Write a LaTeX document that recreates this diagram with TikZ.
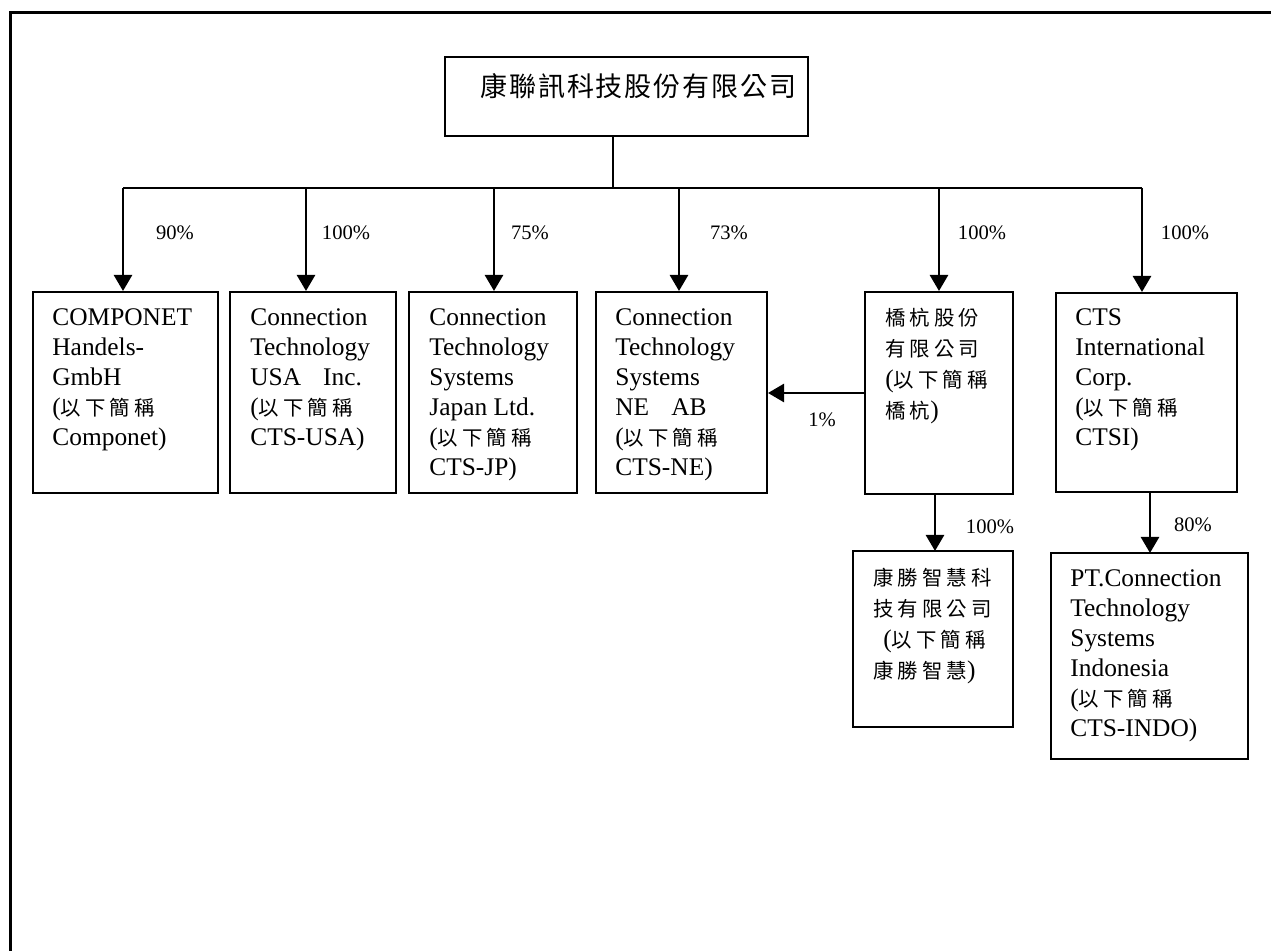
\documentclass[tikz,border=0pt]{standalone}
\usepackage{fontspec}
\setmainfont{Liberation Serif}
\newfontfamily\cjkfont{Noto Sans CJK TC}
\usetikzlibrary{arrows.meta}
\newcommand\cj[1]{{\cjkfont\fontsize{10.2pt}{15pt}\selectfont\addfontfeature{LetterSpace=20}#1}}
\tikzset{
  box/.style={draw, line width=1pt, inner sep=0pt},
  txt/.style={anchor=base west, inner sep=0pt, font=\fontsize{12.7pt}{15pt}\selectfont},
  pct/.style={anchor=base, inner sep=0pt, font=\fontsize{10.3pt}{12pt}\selectfont},
  arr/.style={line width=1.3pt, -{Triangle[width=9pt,length=8pt]}},
  link/.style={line width=1pt},
  frameline/.style={line width=1.5pt}
}
\begin{document}
\begin{tikzpicture}[x=0.5pt,y=-0.5pt]
\useasboundingbox (0,0) rectangle (1271,951);
% frame (open right and bottom)
\coordinate (fa) at (10,951);
\coordinate (fb) at (10,13);
\coordinate (fc) at (1271,13);
\draw[frameline] (fa) -- (fb) -- (fc);

% boxes
\node[box, minimum width=181.5pt, minimum height=39.5pt] (top) at (626.5,96.5) {};
\node[box, minimum width=92.5pt, minimum height=100.5pt] (b1) at (125.5,392.5) {};
\node[box, minimum width=83pt, minimum height=100.5pt] (b2) at (313,392.5) {};
\node[box, minimum width=84pt, minimum height=100.5pt] (b3) at (493,392.5) {};
\node[box, minimum width=85.5pt, minimum height=100.5pt] (b4) at (681.5,392.5) {};
\node[box, minimum width=74pt, minimum height=101pt] (b5) at (939,393) {};
\node[box, minimum width=90.5pt, minimum height=99.5pt] (b6) at (1146.5,392.5) {};
\node[box, minimum width=80pt, minimum height=88pt] (b7) at (933,639) {};
\node[box, minimum width=98.5pt, minimum height=103pt] (b8) at (1149.5,656) {};

% texts
\node[anchor=base west, inner sep=0pt] (ttop) at (480,97)
  {\cjkfont\fontsize{13.5pt}{16pt}\selectfont\addfontfeature{LetterSpace=7}康聯訊科技股份有限公司};
\node[txt] (t1) at (52,326) {\parbox[t]{100pt}{COMPONET\\Handels-\\GmbH\\(\cj{以下簡稱}\\Componet)}};
\node[txt] (t2) at (250,326) {\parbox[t]{100pt}{Connection\\Technology\\USA\hspace{11pt}Inc.\\(\cj{以下簡稱}\\CTS-USA)}};
\node[txt] (t3) at (429,326) {\parbox[t]{100pt}{Connection\\Technology\\Systems\\Japan Ltd.\\(\cj{以下簡稱}\\CTS-JP)}};
\node[txt] (t4) at (615,326) {\parbox[t]{100pt}{Connection\\Technology\\Systems\\NE\hspace{11pt}AB\\(\cj{以下簡稱}\\CTS-NE)}};
\node[txt] (t5) at (885,326) {\parbox[t]{100pt}{\setlength\baselineskip{15.5pt}\cj{橋杭股份}\\\cj{有限公司}\\(\cj{以下簡稱}\\\cj{橋杭})}};
\node[txt] (t6) at (1075,326) {\parbox[t]{100pt}{CTS\\International\\Corp.\\(\cj{以下簡稱}\\CTSI)}};
\node[txt] (t7) at (873,586) {\parbox[t]{100pt}{\setlength\baselineskip{15.5pt}\cj{康勝智慧科}\\\cj{技有限公司}\\\hspace*{5pt}(\cj{以下簡稱}\\\cj{康勝智慧})}};
\node[txt] (t8) at (1070,587) {\parbox[t]{110pt}{PT.Connection\\Technology\\Systems\\Indonesia\\(\cj{以下簡稱}\\CTS-INDO)}};

% connectors
\coordinate (stem) at (613,188);
\coordinate (j1) at (123,188);
\coordinate (j2) at (306,188);
\coordinate (j3) at (494,188);
\coordinate (j4) at (679,188);
\coordinate (j5) at (939,188);
\coordinate (j6) at (1142,188);
\draw[link] (top.south -| stem) -- (stem);
\draw[link] (j1) -- (j6);
\draw[arr] (j1) -- (j1 |- b1.north);
\draw[arr] (j2) -- (j2 |- b2.north);
\draw[arr] (j3) -- (j3 |- b3.north);
\draw[arr] (j4) -- (j4 |- b4.north);
\draw[arr] (j5) -- (j5 |- b5.north);
\draw[arr] (j6) -- (j6 |- b6.north);
\draw[arr] (b5.west) -- (b4.east |- b5.west);
\coordinate (k7) at (935,551);
\coordinate (k8) at (1150,553);
\draw[arr] (k7 |- b5.south) -- (k7);
\draw[arr] (k8 |- b6.south) -- (k8);

% labels
\node[pct] (l1) at (175,240) {90\%};
\node[pct] (l2) at (346,240) {100\%};
\node[pct] (l3) at (530,240) {75\%};
\node[pct] (l4) at (729,240) {73\%};
\node[pct] (l5) at (982,240) {100\%};
\node[pct] (l6) at (1185,240) {100\%};
\node[pct] (l7) at (822,427) {1\%};
\node[pct] (l8) at (990,534) {100\%};
\node[pct] (l9) at (1193,532) {80\%};
\end{tikzpicture}
\end{document}
